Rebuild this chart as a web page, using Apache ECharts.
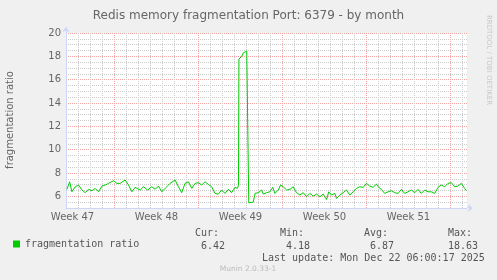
<!DOCTYPE html>
<html><head><meta charset="utf-8">
<script src="https://cdn.jsdelivr.net/npm/echarts@6/dist/echarts.min.js"></script>
<style>html,body{margin:0;padding:0;background:#F0F0F0;}#c{width:497px;height:280px;}</style>
</head><body><div id="c"></div>
<script>
// days relative to the start of Week 48 (Monday)
const days = [-3.96,-3.74,-3.55,-3.27,-2.99,-2.71,-2.44,-2.16,-1.88,-1.61,-1.33,-1.05,-0.77,-0.50,-0.08,0.20,0.47,0.89,1.17,1.45,1.72,2.14,2.42,2.75,3.11,3.39,3.66,3.94,4.36,4.63,5.05,5.33,5.60,5.88,6.16,6.44,6.71,6.99,7.27,7.55,7.82,8.10,8.38,8.65,8.93,9.21,9.49,9.76,10.04,10.24,10.33,10.37,10.52,10.60,10.74,10.88,11.02,11.15,11.19,11.56,11.71,11.98,12.26,12.40,12.68,12.95,13.18,13.37,13.65,13.84,14.06,14.34,14.62,14.89,15.03,15.17,15.45,15.73,16.00,16.28,16.56,16.84,17.11,17.39,17.67,17.86,18.08,18.36,18.50,18.78,19.05,19.33,19.61,19.89,20.16,20.44,20.72,21.00,21.27,21.55,21.83,21.97,22.24,22.52,22.80,23.08,23.35,23.63,23.91,24.18,24.46,24.74,25.02,25.29,25.57,25.85,26.13,26.40,26.68,26.96,27.23,27.51,27.79,28.07,28.35,28.62,28.90,29.18,29.32];
const ratio = [6.60,7.25,6.39,6.82,6.97,6.54,6.31,6.60,6.48,6.68,6.39,6.88,6.97,7.11,7.34,7.11,7.11,7.40,6.97,6.39,6.77,6.54,6.82,6.54,6.82,6.60,6.88,6.39,6.82,7.11,7.40,6.82,6.31,7.11,7.25,6.68,7.11,7.17,6.97,7.25,7.02,6.82,6.25,6.19,6.54,6.25,6.60,6.31,6.77,6.68,6.95,17.77,17.70,18.00,18.30,18.42,18.45,18.35,5.45,5.50,6.25,6.31,6.54,6.19,6.31,6.39,6.77,6.25,6.54,6.97,6.82,6.54,6.60,6.82,6.68,6.31,6.11,6.31,5.96,6.25,6.02,6.19,5.96,6.19,5.73,6.39,6.11,6.25,5.82,6.11,6.31,6.54,6.11,6.39,6.68,6.82,6.77,7.11,6.88,6.77,7.05,6.82,6.60,6.25,6.39,6.48,6.31,6.25,6.60,6.25,6.39,6.54,6.31,6.60,6.25,6.54,6.39,6.39,6.25,6.77,6.97,6.82,7.11,7.17,6.82,6.88,7.11,6.68,6.48];
const xMin = -97/24, xMax = 705/24;
const dayTicks = [-3,-2,-1,1,2,3,4,5,6,8,9,10,11,12,13,15,16,17,18,19,20,22,23,24,25,26,27,29];
const weekTicks = [0,7,14,21,28];
const weekLabelPos = [-3.5,3.5,10.5,17.5,24.5];
const weekLabels = ['Week 47','Week 48','Week 49','Week 50','Week 51'];
const yMinorTicks = [5.5,6.5,7,7.5,8.5,9,9.5,10.5,11,11.5,12.5,13,13.5,14.5,15,15.5,16.5,17,17.5,18.5,19,19.5];
const yMajorTicks = [6,8,10,12,14,16,18,20];
const seriesName = 'fragmentation ratio';
const statHeads = ['Cur:','Min:','Avg:','Max:'];
const statVals = ['6.42','4.18','6.87','18.63'];
const titleText = 'Redis memory fragmentation Port: 6379 - by month';
const lastUpdate = 'Last update: Mon Dec 22 06:00:17 2025';

const SANS = 'DejaVu Sans', MONO = 'DejaVu Sans Mono';
const GRAY = '#cccccc', RED = '#f5a2a2', AXIS = '#CFD6F8';
const chart = echarts.init(document.getElementById('c'), null, {renderer:'canvas'});
const statX = [195,280,364,448];
const valX = [201,286,370,448];
const g = [];
g.push({type:'text', x:10, y:120, rotation:Math.PI/2, style:{text:'fragmentation ratio', font:'10px "DejaVu Sans"', fill:'#666', align:'center', verticalAlign:'middle'}});
g.push({type:'text', x:489, y:60, rotation:-Math.PI/2, style:{text:'RRDTOOL / TOBI OETIKER', font:'7px "DejaVu Sans"', fill:'#c8c8c8', align:'center', verticalAlign:'middle'}});
statHeads.forEach((t,i)=>g.push({type:'text', x:statX[i], y:233, style:{text:t, font:'10px "DejaVu Sans Mono"', fill:'#555', verticalAlign:'middle'}}));
statVals.forEach((t,i)=>g.push({type:'text', x:valX[i], y:246, style:{text:t, font:'10px "DejaVu Sans Mono"', fill:'#555', verticalAlign:'middle'}}));
g.push({type:'text', x:262, y:258, style:{text:lastUpdate, font:'10px "DejaVu Sans Mono"', fill:'#555', verticalAlign:'middle'}});
g.push({type:'text', x:248, y:269, style:{text:'Munin 2.0.33-1', font:'7.5px "DejaVu Sans"', fill:'#bbb', align:'center', verticalAlign:'middle'}});
g.push({type:'line', shape:{x1:66.5, y1:33, x2:66.5, y2:27}, style:{stroke:AXIS, lineWidth:1}});
g.push({type:'line', shape:{x1:467, y1:207.5, x2:472, y2:207.5}, style:{stroke:AXIS, lineWidth:1}});

const baseY = {type:'value', min:5, max:20, position:'left', axisLine:{show:false, onZero:false}, axisTick:{show:false}, axisLabel:{show:false}, splitLine:{show:false}};

function vGrid(vals, color, z){
  return {type:'custom', xAxisIndex:0, yAxisIndex:1, z:z, silent:true, data:vals,
    itemStyle:{color:color},
    renderItem:function(params, api){
      const v = api.value(0);
      const top = api.coord([v, 20]);
      const bot = api.coord([v, 5]);
      const px = Math.floor(top[0]) + 0.5;
      return {type:'line', shape:{x1:px, y1:top[1], x2:px, y2:bot[1]},
        style:{stroke:color, fill:null, lineWidth:1, lineDash:[1,1], opacity:1}};
    }};
}

chart.setOption({
  backgroundColor:'#F0F0F0',
  animation:false,
  title:{text:titleText, left:'center', top:5, textStyle:{fontFamily:SANS, fontSize:12, fontWeight:'normal', color:'#666'}},
  legend:{show:true, left:13, top:239, padding:0, icon:'rect', itemWidth:7, itemHeight:7, itemGap:5, textStyle:{fontFamily:MONO, fontSize:10, color:'#555'}, data:[seriesName]},
  grid:{left:66, right:30, top:33, bottom:72, show:true, backgroundColor:'#FFFFFF', borderWidth:0},
  xAxis:[{type:'value', min:xMin, max:xMax, position:'bottom',
      axisLine:{show:true, onZero:false, lineStyle:{color:AXIS, width:1}, symbol:['none','arrow'], symbolSize:[6,5], symbolOffset:[0,6]},
      axisTick:{show:false, customValues:weekLabelPos}, splitLine:{show:false},
      axisLabel:{show:true, customValues:weekLabelPos, margin:4, fontFamily:SANS, fontSize:10, color:'#666',
        formatter:(v)=>{const i=weekLabelPos.findIndex(p=>Math.abs(p-v)<1e-6); return i>=0?weekLabels[i]:'';}}}],
  yAxis:[
    Object.assign({}, baseY, {axisTick:{show:false, customValues:yMinorTicks}, splitLine:{show:true, lineStyle:{color:GRAY, type:[1,1], width:1}}}),
    Object.assign({}, baseY, {axisLine:{show:true, onZero:false, lineStyle:{color:AXIS, width:1}, symbol:['none','arrow'], symbolSize:[6,5], symbolOffset:[0,6]},
      axisTick:{show:false, customValues:yMajorTicks},
      axisLabel:{show:true, customValues:yMajorTicks, margin:5, fontFamily:SANS, fontSize:10, color:'#666'},
      splitLine:{show:true, lineStyle:{color:RED, type:[1,1], width:1}}})
  ],
  series:[
    vGrid(dayTicks, GRAY, 1),
    vGrid(weekTicks, RED, 2),
    {
    name:seriesName, type:'line', xAxisIndex:0, yAxisIndex:1,
    data: days.map((d,i)=>[d, ratio[i]]),
    showSymbol:false, symbol:'none', itemStyle:{color:'#00CC00'},
    lineStyle:{color:'#00CC00', width:1}, clip:true, z:5
  }],
  graphic:g
});
</script></body></html>
